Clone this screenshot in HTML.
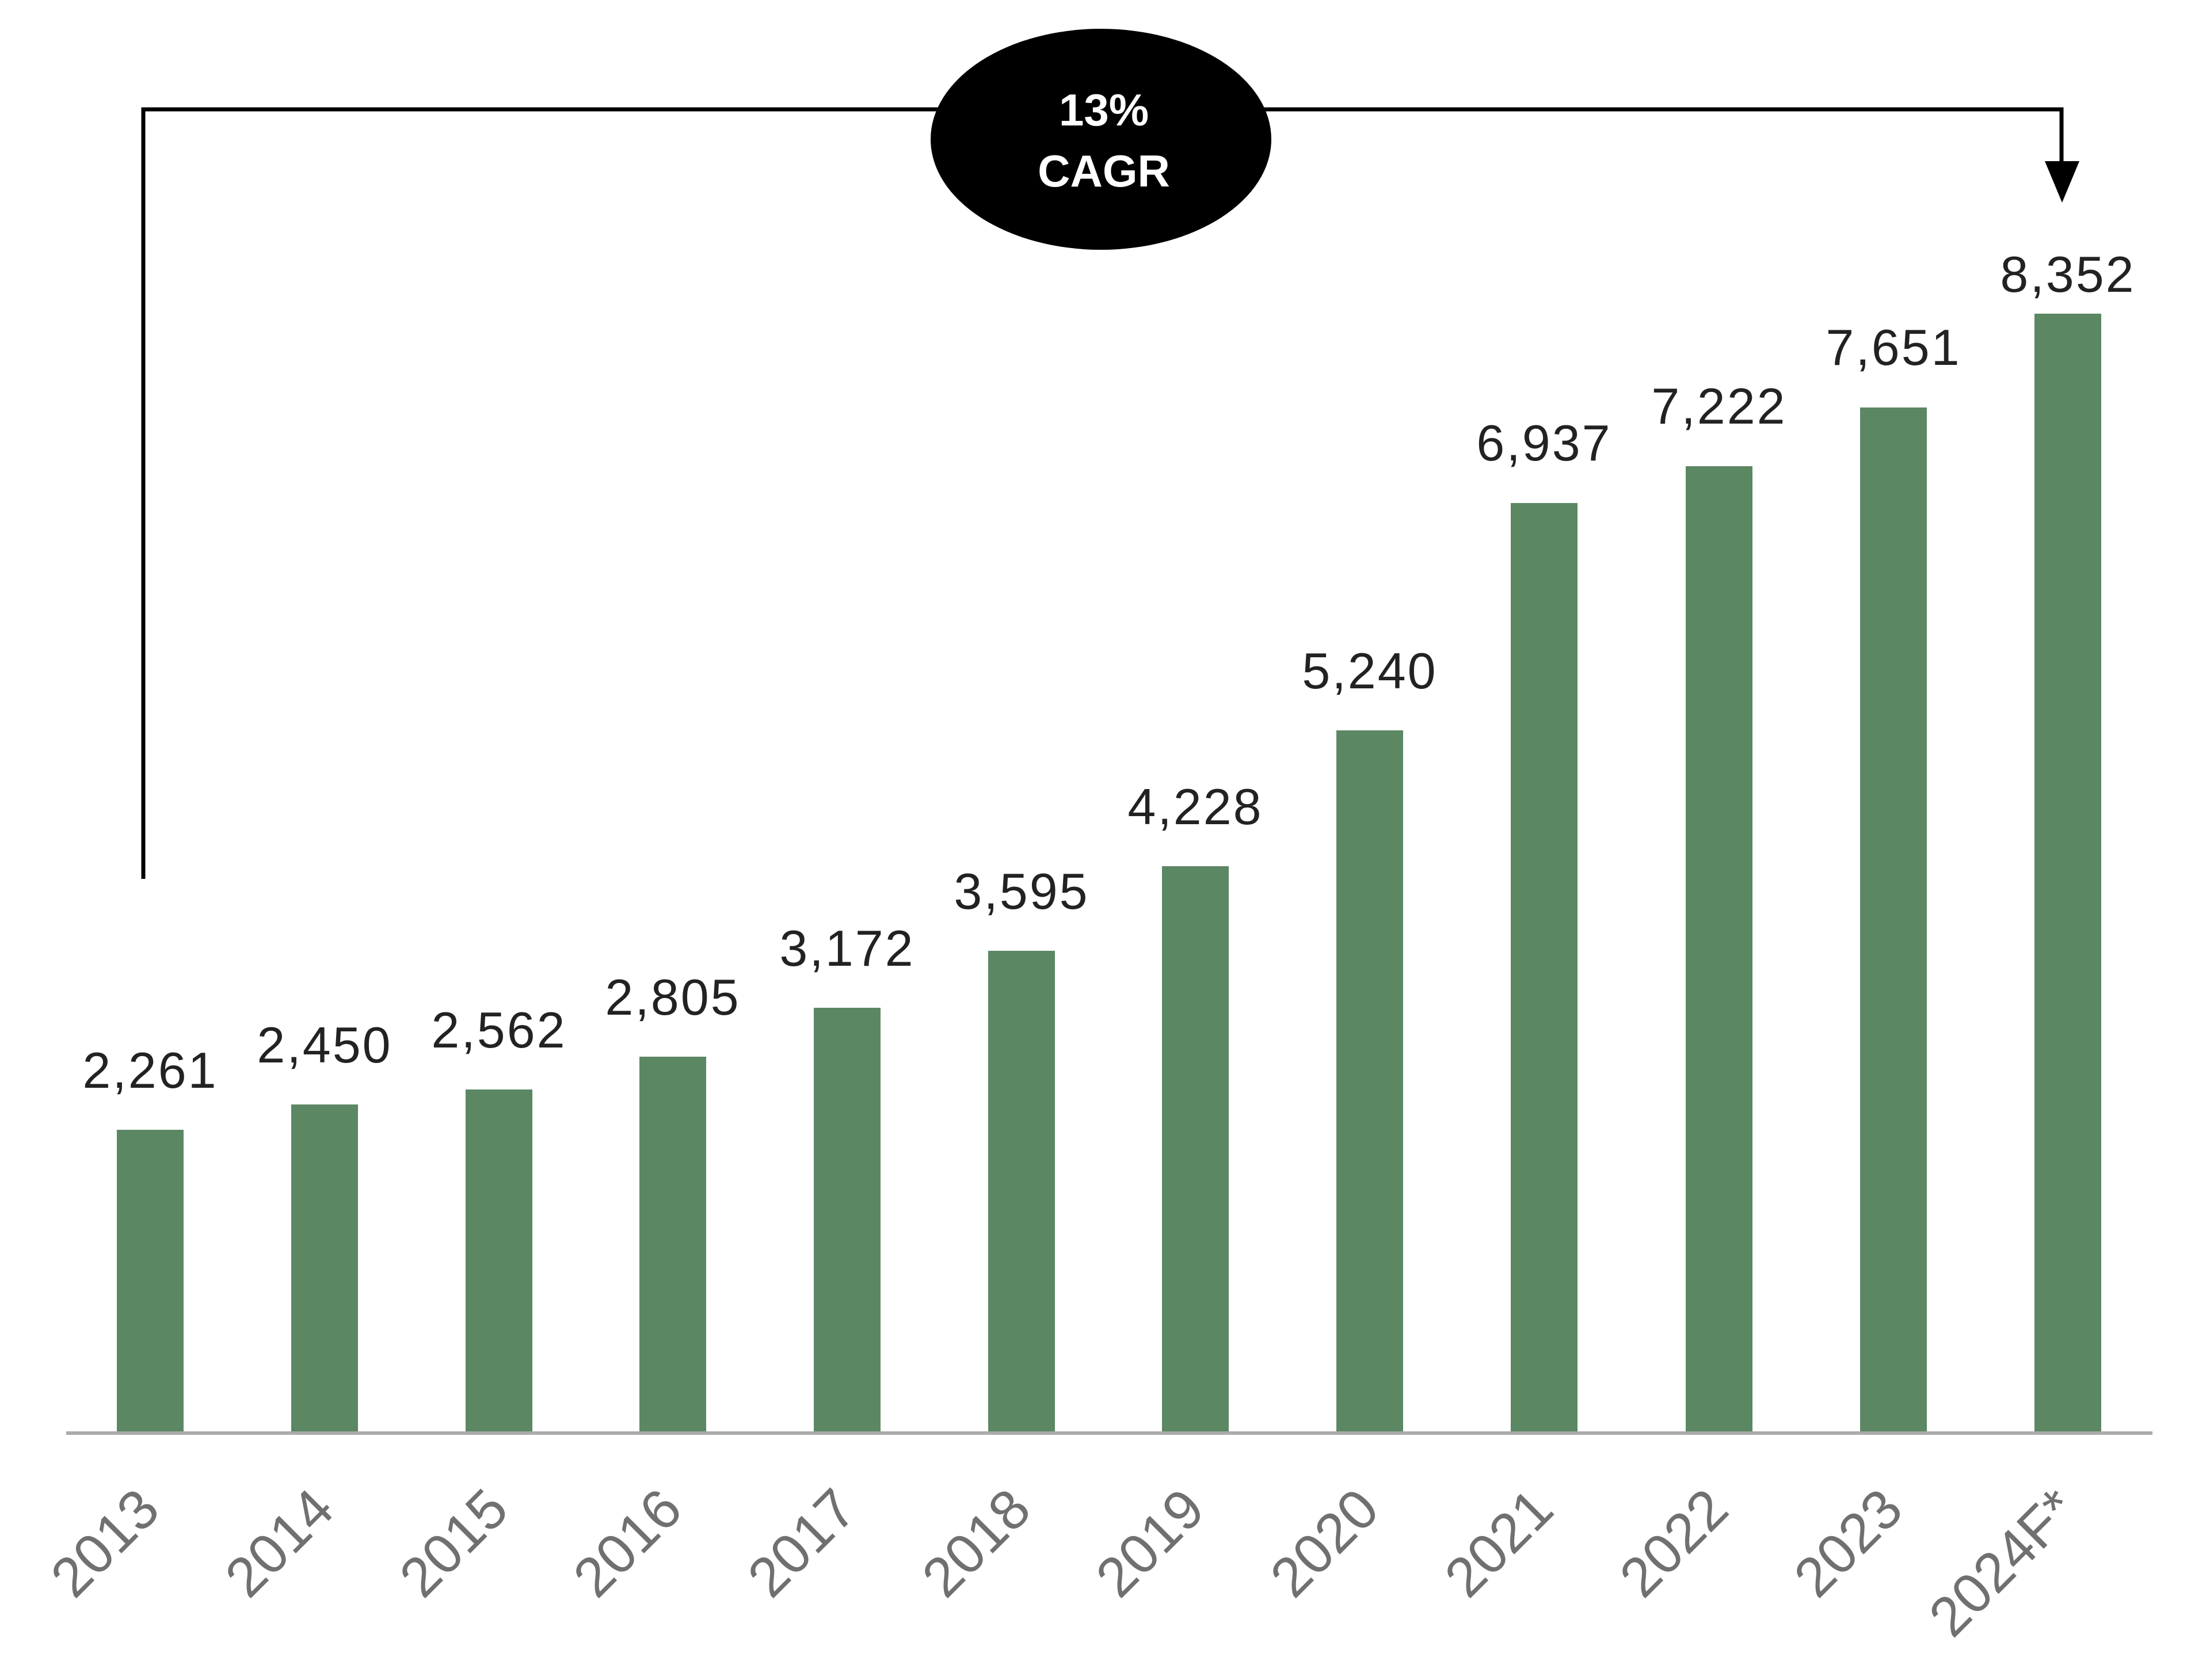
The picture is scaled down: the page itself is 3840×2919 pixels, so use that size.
<!DOCTYPE html>
<html><head><meta charset="utf-8"><style>
html,body{margin:0;padding:0;background:#fff;}
svg{display:block;}
</style></head><body>
<svg width="3840" height="2919" viewBox="0 0 3840 2919" xmlns="http://www.w3.org/2000/svg">
<rect width="3840" height="2919" fill="#fff"/>
<g fill="none" stroke="#000" stroke-width="7">
<polyline points="249,1527 249,190 3582,190 3582,290"/>
</g>
<polygon points="3553,280 3613,280 3583,352" fill="#000"/>
<ellipse cx="1913" cy="242" rx="296" ry="192" fill="#000"/>
<g font-family="Liberation Sans, sans-serif" font-weight="bold" fill="#fff" font-size="78" text-anchor="middle">
<text x="1918" y="218">13%</text>
<text x="1918" y="324">CAGR</text>
</g>
<g fill="#5b8763">
<rect x="203" y="1963" width="116" height="526"/>
<rect x="506" y="1919" width="116" height="570"/>
<rect x="809" y="1893" width="116" height="596"/>
<rect x="1111" y="1836" width="116" height="653"/>
<rect x="1414" y="1751" width="116" height="738"/>
<rect x="1717" y="1652" width="116" height="837"/>
<rect x="2019" y="1505" width="116" height="984"/>
<rect x="2322" y="1269" width="116" height="1220"/>
<rect x="2625" y="874" width="116" height="1615"/>
<rect x="2929" y="810" width="116" height="1679"/>
<rect x="3232" y="708" width="116" height="1781"/>
<rect x="3535" y="545" width="116" height="1944"/>
</g>
<line x1="115" y1="2490" x2="3740" y2="2490" stroke="#aaa" stroke-width="6"/>
<g font-family="Liberation Sans, sans-serif" fill="#222" font-size="88" letter-spacing="3" text-anchor="middle">
<text x="261" y="1890">2,261</text>
<text x="564" y="1846">2,450</text>
<text x="867" y="1820">2,562</text>
<text x="1169" y="1763">2,805</text>
<text x="1472" y="1678">3,172</text>
<text x="1775" y="1579">3,595</text>
<text x="2077" y="1432">4,228</text>
<text x="2380" y="1196">5,240</text>
<text x="2683" y="800">6,937</text>
<text x="2987" y="736">7,222</text>
<text x="3290" y="634">7,651</text>
<text x="3593" y="507">8,352</text>
</g>
<g font-family="Liberation Sans, sans-serif" fill="#707070" font-size="97" text-anchor="end">
<text transform="translate(282,2628) rotate(-45)">2013</text>
<text transform="translate(585,2628) rotate(-45)">2014</text>
<text transform="translate(888,2628) rotate(-45)">2015</text>
<text transform="translate(1190,2628) rotate(-45)">2016</text>
<text transform="translate(1493,2628) rotate(-45)">2017</text>
<text transform="translate(1796,2628) rotate(-45)">2018</text>
<text transform="translate(2098,2628) rotate(-45)">2019</text>
<text transform="translate(2401,2628) rotate(-45)">2020</text>
<text transform="translate(2704,2628) rotate(-45)">2021</text>
<text transform="translate(3008,2628) rotate(-45)">2022</text>
<text transform="translate(3311,2628) rotate(-45)">2023</text>
<text transform="translate(3614,2628) rotate(-45)">2024F*</text>
</g>
</svg>
</body></html>
